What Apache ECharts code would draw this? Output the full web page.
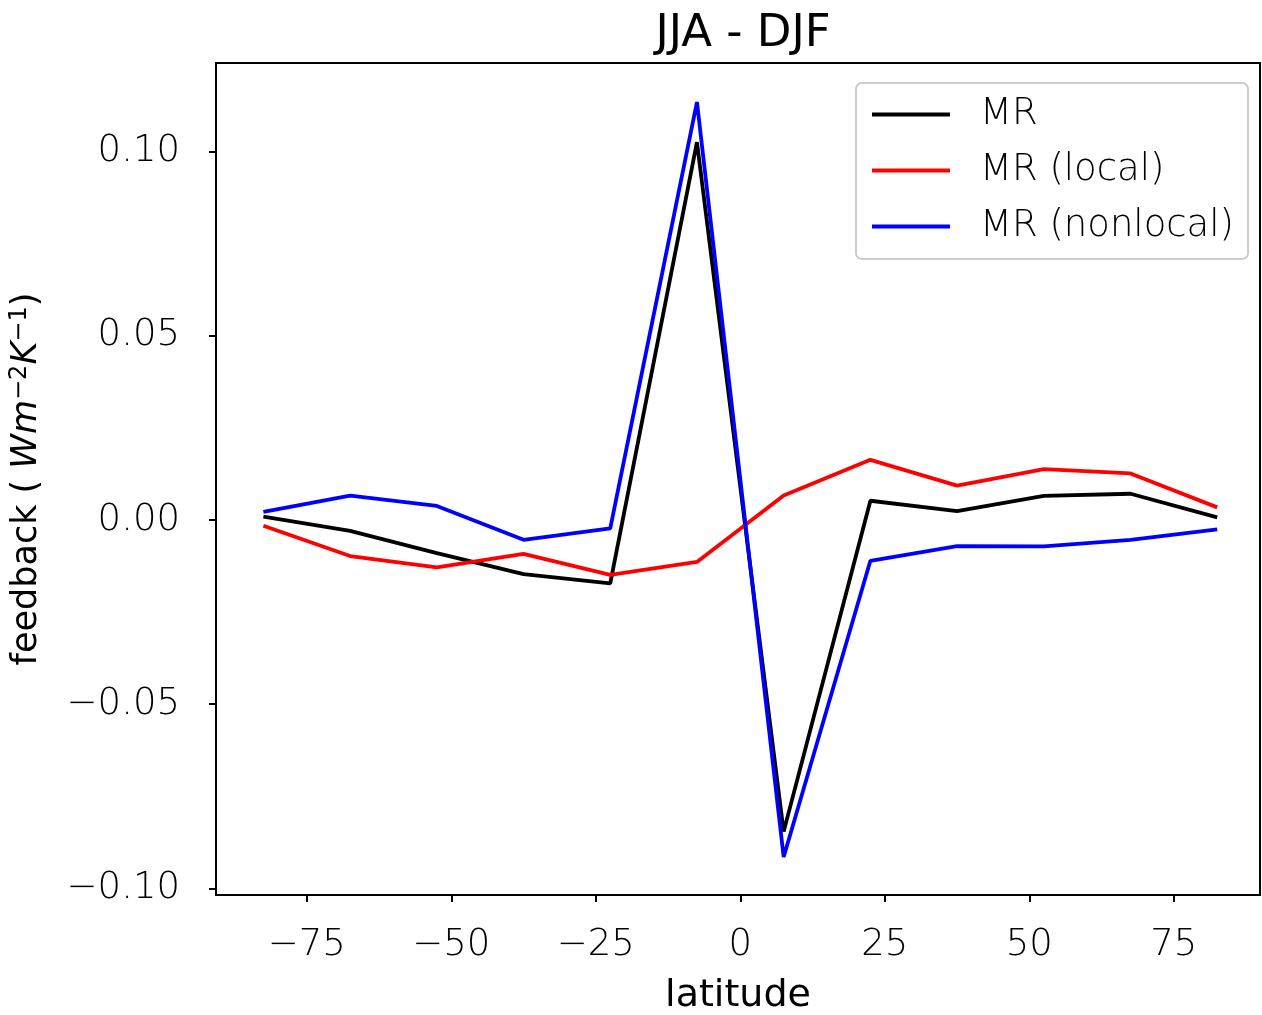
<!DOCTYPE html>
<html>
<head>
<meta charset="utf-8">
<script src="https://cdn.jsdelivr.net/npm/echarts@6/dist/echarts.min.js"></script>
<style>html,body{margin:0;padding:0;background:#fff;}#c{width:1262px;height:1015px;}</style>
</head>
<body>
<div id="c"></div>
<script>
const latitudes = [-82.5, -67.5, -52.5, -37.5, -22.5, -7.5, 7.5, 22.5, 37.5, 52.5, 67.5, 82.5];
const mr = [0.0009, -0.0030, -0.0090, -0.0147, -0.0172, 0.1025, -0.0846, 0.0052, 0.0024, 0.0065, 0.0071, 0.0007];
const mrLocal = [-0.0016, -0.0098, -0.0129, -0.0092, -0.0149, -0.0114, 0.0066, 0.0163, 0.0093, 0.0138, 0.0126, 0.0034];
const mrNonlocal = [0.0022, 0.0066, 0.0038, -0.0054, -0.0023, 0.1134, -0.0915, -0.0111, -0.0071, -0.0072, -0.0054, -0.0026];
const xTicks = [-75, -50, -25, 0, 25, 50, 75];
const yTicks = [-0.10, -0.05, 0.00, 0.05, 0.10];
const seriesNames = ['MR', 'MR (local)', 'MR (nonlocal)'];
const seriesColors = ['#000000', '#ff0000', '#0000ff'];

const pairs = arr => latitudes.map((x, i) => [x, arr[i]]);
const minus = s => s.replace('-', '\u2212');
const FONT = 'DejaVu Sans';

const chart = echarts.init(document.getElementById('c'));
chart.setOption({
  animation: false,
  backgroundColor: '#ffffff',
  title: {
    text: 'JJA - DJF', left: 738, top: 7, textAlign: 'center',
    textStyle: { fontFamily: FONT, fontSize: 45, fontWeight: 'normal', color: '#000' }
  },
  legend: {
    orient: 'vertical', right: 14, top: 83,
    data: seriesNames,
    icon: 'rect', itemWidth: 78, itemHeight: 4, itemGap: 19,
    padding: [13, 14, 14, 16],
    backgroundColor: '#ffffff', borderColor: '#cccccc', borderWidth: 2, borderRadius: 6,
    textStyle: { fontFamily: FONT, fontSize: 37, fontWeight: 200, color: '#000', lineHeight: 37, padding: [0, 0, 0, 25] }
  },
  grid: { left: 216, right: 2, top: 63, bottom: 120, show: true, borderColor: '#000', borderWidth: 2,
    backgroundColor: 'transparent', outerBoundsMode: 'none', containLabel: false },
  xAxis: {
    type: 'value', min: -90.7, max: 89.9,
    name: 'latitude', nameLocation: 'middle', nameGap: 82,
    nameTextStyle: { fontFamily: FONT, fontSize: 38, color: '#000' },
    axisLine: { show: true, onZero: false, lineStyle: { color: '#000', width: 2 } },
    axisTick: { show: true, inside: false, length: 7, lineStyle: { color: '#000', width: 2 }, customValues: xTicks },
    axisLabel: { fontFamily: FONT, fontSize: 37, fontWeight: 200, color: '#000', margin: 32, customValues: xTicks,
      formatter: v => minus(String(v)) },
    splitLine: { show: false }
  },
  yAxis: {
    type: 'value', min: -0.1018, max: 0.124,
    name: '{n|feedback ( }{i|Wm}{s|\u22122}{i|K}{s|\u22121}{n|)}', nameLocation: 'middle', nameGap: 170, nameRotate: 90,
    nameTextStyle: {
      fontFamily: FONT, fontSize: 35, color: '#000',
      rich: {
        n: { fontFamily: FONT, fontSize: 35, color: '#000' },
        i: { fontFamily: FONT, fontSize: 35, fontStyle: 'italic', color: '#000' },
        s: { fontFamily: FONT, fontSize: 24, color: '#000', verticalAlign: 'top', padding: [0, 0, 14, 0] }
      }
    },
    axisLine: { show: true, onZero: false, lineStyle: { color: '#000', width: 2 } },
    axisTick: { show: true, inside: false, length: 7, lineStyle: { color: '#000', width: 2 }, customValues: yTicks },
    axisLabel: { fontFamily: FONT, fontSize: 37, fontWeight: 200, color: '#000', margin: 36, customValues: yTicks,
      formatter: v => minus(v.toFixed(2)) },
    splitLine: { show: false }
  },
  series: [mr, mrLocal, mrNonlocal].map((arr, i) => ({
    name: seriesNames[i], type: 'line', data: pairs(arr),
    showSymbol: false, symbol: 'none',
    lineStyle: { color: seriesColors[i], width: 3.8 },
    itemStyle: { color: seriesColors[i] }
  }))
});
</script>
</body>
</html>
